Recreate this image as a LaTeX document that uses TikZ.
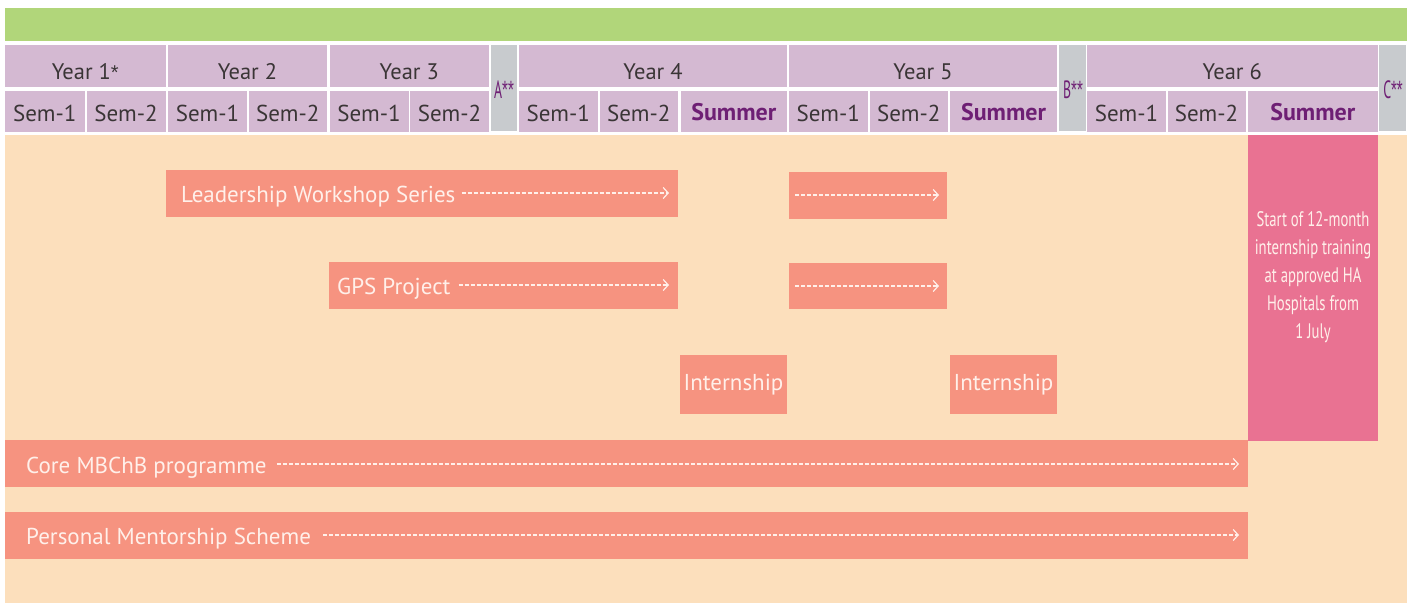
\documentclass[tikz,border=0pt]{standalone}
\usepackage{fontspec}
\setmainfont{PT Sans}
\newfontfamily\condfont[FakeStretch=0.7]{PT Sans}
\newfontfamily\gapfont[FakeStretch=0.55]{PT Sans}
\newfontfamily\astfont{Liberation Sans}
\newfontfamily\gapastfont[FakeStretch=0.6]{Liberation Sans}
\usetikzlibrary{arrows.meta}
\definecolor{grn}{HTML}{B1D67A}
\definecolor{lav}{HTML}{D4B9D2}
\definecolor{gry}{HTML}{C8CBCE}
\definecolor{pch}{HTML}{FCDFBC}
\definecolor{sal}{HTML}{F69380}
\definecolor{pnk}{HTML}{E97292}
\definecolor{txt}{HTML}{3A3536}
\definecolor{pur}{HTML}{6E1F74}
\definecolor{wtx}{HTML}{FFF0EA}
\newcommand\mkbox[7]{\node[#6, minimum width={(#4-#2)*1pt}, minimum height={(#5-#3)*1pt}, anchor=north west] (#1) at (#2,#3) {#7};}
\newcommand\gapast{{\gapastfont **}}
\tikzset{
  area/.style={fill=#1, inner sep=0pt, outer sep=0pt, draw=none},
  yeartxt/.style={area=lav, text=txt, text height=27pt, text depth=0pt, font=\fontsize{22.5}{25}\selectfont},
  semtxt/.style={area=lav, text=txt, text height=19pt, text depth=0pt, font=\fontsize{23}{25}\selectfont},
  sumtxt/.style={area=lav, text=pur, text height=18pt, text depth=0pt, font=\fontsize{24}{26}\selectfont\bfseries},
  gapcell/.style={area=gry},
  gaplabel/.style={text=pur, inner sep=0pt, font=\gapfont\fontsize{25}{26}\selectfont},
  bar/.style={area=sal, text=wtx, font=\fontsize{23}{25}\selectfont},
  barlabel/.style={text=wtx, inner sep=0pt, anchor=base west, font=\fontsize{23}{25}\selectfont},
  dasharrow/.style={draw=wtx, line width=1.2pt, dash pattern=on 4pt off 2pt, -{Straight Barb[length=5pt,width=11pt,line width=1.2pt]}},
}
\begin{document}
\begin{tikzpicture}[x=1pt,y=-1pt]
\useasboundingbox (0,0) rectangle (1414,603);
\fill[white] (0,0) rectangle (1414,603);
% top green band
\mkbox{green}{5}{8}{1407}{41}{area=grn}{}
% year row
\mkbox{y1}{5}{45}{165.5}{87}{yeartxt}{Year 1{\astfont\fontsize{20}{24}\selectfont *}}
\mkbox{y2}{168}{45}{327}{87}{yeartxt}{Year 2}
\mkbox{y3}{329.5}{45}{489}{87}{yeartxt}{Year 3}
\mkbox{y4}{519}{45}{787}{87}{yeartxt}{Year 4}
\mkbox{y5}{789}{45}{1057}{87}{yeartxt}{Year 5}
\mkbox{y6}{1087}{45}{1377.5}{87}{yeartxt}{Year 6}
% gap columns
\mkbox{ga}{490.5}{45}{517}{131}{gapcell}{}
\mkbox{gb}{1059}{45}{1086}{131}{gapcell}{}
\mkbox{gc}{1379}{45}{1406}{131}{gapcell}{}
\node[gaplabel] (la) at (504,90) {A\gapast};
\node[gaplabel] (lb) at (1073,90) {B\gapast};
\node[gaplabel] (lc) at (1393,90) {C\gapast};
% semester row
\mkbox{s11}{5}{91}{84.5}{132}{semtxt}{Sem-1}
\mkbox{s12}{86.5}{91}{165.5}{132}{semtxt}{Sem-2}
\mkbox{s21}{168}{91}{247}{132}{semtxt}{Sem-1}
\mkbox{s22}{248.5}{91}{327}{132}{semtxt}{Sem-2}
\mkbox{s31}{329.5}{91}{408.5}{132}{semtxt}{Sem-1}
\mkbox{s32}{410}{91}{489}{132}{semtxt}{Sem-2}
\mkbox{s41}{519}{91}{597.5}{132}{semtxt}{Sem-1}
\mkbox{s42}{599.5}{91}{678}{132}{semtxt}{Sem-2}
\mkbox{s43}{680.5}{91}{787}{132}{sumtxt}{Summer}
\mkbox{s51}{789}{91}{867.5}{132}{semtxt}{Sem-1}
\mkbox{s52}{869.5}{91}{948}{132}{semtxt}{Sem-2}
\mkbox{s53}{950}{91}{1057}{132}{sumtxt}{Summer}
\mkbox{s61}{1087}{91}{1166}{132}{semtxt}{Sem-1}
\mkbox{s62}{1167.5}{91}{1245.5}{132}{semtxt}{Sem-2}
\mkbox{s63}{1248}{91}{1377.5}{132}{sumtxt}{Summer}
% peach body
\mkbox{body}{5}{135}{1407}{603}{area=pch}{}
% activity bars
\mkbox{lws1}{166}{170}{678}{217}{bar}{}
\mkbox{lws2}{789}{172}{947}{219}{bar}{}
\mkbox{gps1}{329}{262}{678}{309}{bar}{}
\mkbox{gps2}{789}{263}{947}{309}{bar}{}
\mkbox{int1}{680}{355}{787}{414}{bar}{Internship}
\mkbox{int2}{950}{355}{1057}{414}{bar}{Internship}
\mkbox{core}{5}{440}{1248}{487}{bar}{}
\mkbox{pms}{5}{512}{1248}{559}{bar}{}
\mkbox{intern}{1248}{135}{1378}{441}{area=pnk}{}
\node[text=wtx, align=center, inner sep=0pt, font=\condfont\fontsize{21}{28}\selectfont] (interntxt) at (1313,277)
  {Start of 12-month\\internship training\\at approved HA\\Hospitals from\\1 July};
% labels
\node[barlabel] (lwst) at (181,202) {Leadership Workshop Series};
\node[barlabel] (gpst) at (337,294) {GPS Project};
\node[barlabel] (coret) at (26,473) {Core MBChB programme};
\node[barlabel] (pmst) at (26,544) {Personal Mentorship Scheme};
% arrow end points
\coordinate (lwsend) at (669,193);
\coordinate (lws2a) at (795,195);
\coordinate (lws2b) at (939,195);
\coordinate (gpsend) at (669,285);
\coordinate (gps2a) at (795,286);
\coordinate (gps2b) at (939,286);
\coordinate (coreend) at (1239,464);
\coordinate (pmsend) at (1239,535);
% arrows
\draw[dasharrow] ([xshift=6pt,yshift=9pt]lwst.base east) -- (lwsend);
\draw[dasharrow] (lws2a) -- (lws2b);
\draw[dasharrow] ([xshift=8pt,yshift=9pt]gpst.base east) -- (gpsend);
\draw[dasharrow] ([xshift=10pt,yshift=9pt]coret.base east) -- (coreend);
\draw[dasharrow] (gps2a) -- (gps2b);
\draw[dasharrow] ([xshift=12pt,yshift=9pt]pmst.base east) -- (pmsend);
\end{tikzpicture}
\end{document}
